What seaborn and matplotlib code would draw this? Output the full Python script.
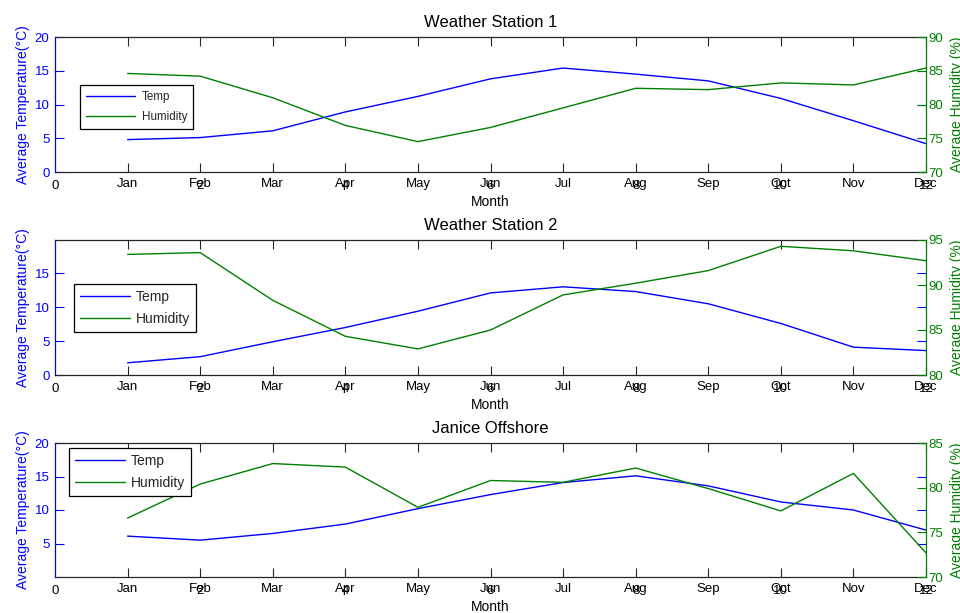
import matplotlib
matplotlib.use("Agg")
import matplotlib.pyplot as plt
import seaborn as sns
import pandas as pd

months = ["Jan", "Feb", "Mar", "Apr", "May", "Jun",
          "Jul", "Aug", "Sep", "Oct", "Nov", "Dec"]
month_num = list(range(1, 13))
num_ticks = [0, 2, 4, 6, 8, 10, 12]

titles = ["Weather Station 1", "Weather Station 2", "Janice Offshore"]

temp_ws1 = [4.8, 5.1, 6.1, 8.9, 11.2, 13.8, 15.4, 14.5, 13.5, 10.9, 7.6, 4.2]
hum_ws1 = [84.6, 84.2, 81.0, 76.9, 74.5, 76.6, 79.5, 82.4, 82.2, 83.2, 82.9, 85.4]

temp_ws2 = [1.8, 2.7, 4.9, 7.0, 9.4, 12.1, 13.0, 12.3, 10.5, 7.6, 4.1, 3.6]
hum_ws2 = [93.4, 93.6, 88.3, 84.3, 82.9, 85.0, 88.9, 90.2, 91.6, 94.3, 93.8, 92.7]

temp_jo = [6.1, 5.5, 6.5, 7.9, 10.2, 12.3, 14.1, 15.1, 13.6, 11.2, 10.0, 7.0]
hum_jo = [76.6, 80.4, 82.7, 82.3, 77.8, 80.8, 80.6, 82.2, 79.9, 77.4, 81.6, 72.7]

temps = [temp_ws1, temp_ws2, temp_jo]
hums = [hum_ws1, hum_ws2, hum_jo]

left_lims = [(0, 20), (0, 19.9), (0, 20)]
left_ticks = [[0, 5, 10, 15, 20], [0, 5, 10, 15], [5, 10, 15, 20]]
right_lims = [(70, 90), (80, 95), (70, 85)]
right_ticks = [[70, 75, 80, 85, 90], [80, 85, 90, 95], [70, 75, 80, 85]]

sns.set_style("white")
plt.rcParams["font.family"] = ["Liberation Sans", "DejaVu Sans"]

BLUE = "#0000FF"
GREEN = "#008000"
DARK = "#262626"
TFS = 9.5

fig = plt.figure(figsize=(9.6, 6.13), dpi=100)

positions = [
    (55 / 960, 1 - 172 / 613, 871 / 960, 135 / 613),
    (55 / 960, 1 - 375 / 613, 871 / 960, 135 / 613),
    (55 / 960, 1 - 577 / 613, 871 / 960, 134 / 613),
]
legend_anchor = [(0.0287, 0.644), (0.0218, 0.672), (0.0164, 0.96)]
legend_fs = [8.4, 10, 10]
legend_hl = [4.2, 3.6, 3.6]
legend_bp = [0.5, 0.4, 0.4]
legend_ls = [0.68, 0.6, 0.6]
legend_tp = [0.6, 0.45, 0.45]

for i in range(3):
    ax = fig.add_axes(positions[i])
    df = pd.DataFrame({"month": month_num, "temp": temps[i], "hum": hums[i]})
    sns.lineplot(data=df, x="month", y="temp", ax=ax, color=BLUE, lw=1.0,
                 label="Temp", legend=False)
    ax2 = ax.twinx()
    sns.lineplot(data=df, x="month", y="hum", ax=ax2, color=GREEN, lw=1.0,
                 label="Humidity", legend=False)

    ax.set_xlim(0, 12)
    ax.set_ylim(*left_lims[i])
    ax.set_yticks(left_ticks[i])
    ax2.set_ylim(*right_lims[i])
    ax2.set_yticks(right_ticks[i])

    ax.set_xticks(month_num)
    ax.set_xticklabels(months)
    ax.tick_params(axis="x", direction="in", length=6.5, width=0.8,
                   colors=DARK, labelcolor="black", labelsize=TFS, pad=4,
                   top=True, bottom=True)
    ax.tick_params(axis="y", direction="in", length=6.5, width=0.8,
                   colors=BLUE, labelsize=TFS, pad=4, left=True, right=True,
                   labelright=False)
    ax2.tick_params(axis="y", direction="in", length=6.5, width=0.8,
                    colors=GREEN, labelsize=TFS, pad=2, right=True, left=False)

    sec = ax.secondary_xaxis("bottom")
    sec.set_xticks(num_ticks)
    sec.set_xticklabels([str(v) for v in num_ticks])
    sec.tick_params(axis="x", length=0, pad=6, labelsize=TFS, labelcolor="black")
    for s in sec.spines.values():
        s.set_visible(False)

    for sp in ["top", "bottom"]:
        ax.spines[sp].set_color(DARK)
        ax.spines[sp].set_linewidth(0.9)
        ax2.spines[sp].set_visible(False)
    ax.spines["left"].set_color(BLUE)
    ax.spines["left"].set_linewidth(0.9)
    ax.spines["right"].set_visible(False)
    ax2.spines["left"].set_visible(False)
    ax2.spines["right"].set_color(GREEN)
    ax2.spines["right"].set_linewidth(0.9)

    ax.set_xlabel("Month", fontsize=10, color="black", labelpad=4)
    ax.set_ylabel("Average Temperature(°C)", fontsize=10, color=BLUE, labelpad=3)
    ax2.set_ylabel("Average Humidity (%)", fontsize=10, color=GREEN, labelpad=5)
    ax.set_title(titles[i], fontsize=12, color="black", pad=7)

    h1, l1 = ax.get_legend_handles_labels()
    h2, l2 = ax2.get_legend_handles_labels()
    leg = ax2.legend(h1 + h2, l1 + l2, loc="upper left",
                     bbox_to_anchor=legend_anchor[i], borderaxespad=0,
                     fontsize=legend_fs[i],
                     frameon=True, fancybox=False, framealpha=1,
                     edgecolor="black", handlelength=legend_hl[i],
                     borderpad=legend_bp[i], labelspacing=legend_ls[i],
                     handletextpad=legend_tp[i])
    leg.get_frame().set_linewidth(0.9)

fig.savefig("out.png", dpi=100)
